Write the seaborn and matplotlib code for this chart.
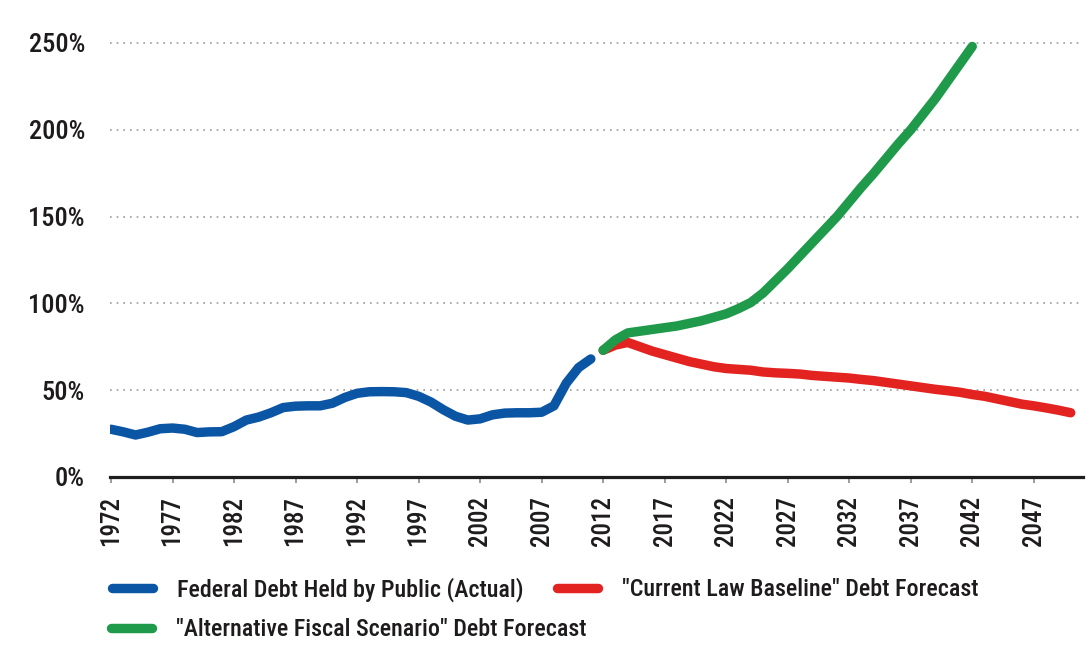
import matplotlib
matplotlib.use("Agg")
import matplotlib.pyplot as plt
import numpy as np
import pandas as pd
import seaborn as sns

# Federal debt held by the public, % of GDP
years_actual = list(range(1972, 2012))
debt_actual = [27.5, 26.0, 24.2, 25.8, 27.8, 28.2, 27.5, 25.6, 26.0, 26.1,
               29.0, 32.8, 34.5, 37.0, 40.0, 40.8, 41.0, 41.0, 42.5, 45.8,
               48.2, 49.1, 49.2, 49.1, 48.6, 46.5, 43.2, 38.8, 35.0, 32.8,
               33.5, 35.8, 36.8, 37.0, 37.0, 37.3, 41.0, 54.0, 63.0, 68.0]

years_baseline = list(range(2012, 2051))
debt_baseline = [73.0, 76.0, 77.5, 75.0, 72.5, 70.5, 68.5, 66.5, 65.0, 63.5,
                 62.5, 62.0, 61.5, 60.5, 60.0, 59.7, 59.3, 58.5, 58.0, 57.5,
                 57.0, 56.2, 55.5, 54.5, 53.5, 52.5, 51.5, 50.5, 49.7, 48.8,
                 47.5, 46.5, 45.0, 43.5, 42.0, 41.0, 39.8, 38.5, 37.0]

years_alternative = list(range(2012, 2043))
debt_alternative = [73.0, 79.0, 83.0, 84.0, 85.0, 86.0, 87.0, 88.5, 90.0, 92.0,
                    94.0, 97.0, 100.5, 106.0, 113.0, 120.0, 127.5, 135.0, 142.5, 150.0,
                    158.5, 167.0, 175.0, 183.5, 192.0, 200.0, 209.0, 218.0, 228.0, 238.0,
                    248.0]

series_names = ["Federal Debt Held by Public (Actual)",
                "\"Current Law Baseline\" Debt Forecast",
                "\"Alternative Fiscal Scenario\" Debt Forecast"]
series_colors = ["#0b56a4", "#e2231f", "#1f9a4a"]

y_ticks = [0, 50, 100, 150, 200, 250]
y_tick_labels = ["0%", "50%", "100%", "150%", "200%", "250%"]
x_ticks = list(range(1972, 2048, 5))

df = pd.concat([
    pd.DataFrame({"year": years_actual, "debt": debt_actual, "series": series_names[0]}),
    pd.DataFrame({"year": years_baseline, "debt": debt_baseline, "series": series_names[1]}),
    pd.DataFrame({"year": years_alternative, "debt": debt_alternative, "series": series_names[2]}),
], ignore_index=True)

sns.set_theme(style="white")
plt.rcParams["font.family"] = ["Roboto Condensed", "Liberation Sans Narrow", "DejaVu Sans"]
plt.rcParams["font.stretch"] = "condensed"
plt.rcParams["font.weight"] = "medium"
text_color = "#1e1b1c"

W, H = 1092, 649
fig = plt.figure(figsize=(W / 100, H / 100), dpi=100)
fig.patch.set_facecolor("white")

# axes box in pixels: left 110, bottom 477, right 1083
ymax = 265
px_per_pct = 1.736
ax = fig.add_axes([110 / W, (H - 477) / H, 973 / W, ymax * px_per_pct / H])
ax.set_facecolor("white")

sns.lineplot(data=df, x="year", y="debt", hue="series", hue_order=series_names,
             palette=dict(zip(series_names, series_colors)), linewidth=6.8,
             solid_capstyle="round", solid_joinstyle="round", ax=ax, zorder=3)

ax.set_xlim(1971.92, 2051.0)
ax.set_ylim(0, ymax)
ax.set_xlabel("")
ax.set_ylabel("")

ax.set_yticks(y_ticks)
ax.set_yticklabels(y_tick_labels)
ax.set_xticks(x_ticks)
ax.set_xticklabels([str(y) for y in x_ticks], rotation=90)

ax.tick_params(axis="y", length=0, pad=18, labelsize=19, labelcolor=text_color)
ax.tick_params(axis="x", length=4.5, width=1.2, color="#8a8a8a", direction="out",
               pad=9, labelsize=18, labelcolor=text_color, bottom=True)

# dotted horizontal gridlines
for v in y_ticks[1:]:
    ax.axhline(v, color="#9a9a9a", linewidth=1.2, linestyle=(0, (1, 3)), zorder=1)

for side in ["left", "right", "top"]:
    ax.spines[side].set_visible(False)
ax.spines["bottom"].set_color("#1e1e1e")
ax.spines["bottom"].set_linewidth(2.3)
ax.spines["bottom"].set_zorder(4)

# legend entries, each placed on its own
leg = ax.get_legend()
handles = list(leg.legend_handles)
labels = [t.get_text() for t in leg.get_texts()]
leg.remove()
for h, c in zip(handles, series_colors):
    h.set_linewidth(6.8)
    h.set_color(c)
    h.set_solid_capstyle("round")

positions = {series_names[0]: (112, 590),
             series_names[1]: (557, 590),
             series_names[2]: (111, 630)}
for h, lab in zip(handles, labels):
    x, y = positions[lab]
    fig.legend(handles=[h], labels=[lab], loc="center left",
               bbox_to_anchor=(x / W, 1 - y / H), frameon=False,
               borderpad=0, borderaxespad=0, handlelength=1.7,
               handletextpad=1.0, fontsize=17.3, labelcolor=text_color)

fig.savefig("out.png", dpi=100, facecolor="white")
